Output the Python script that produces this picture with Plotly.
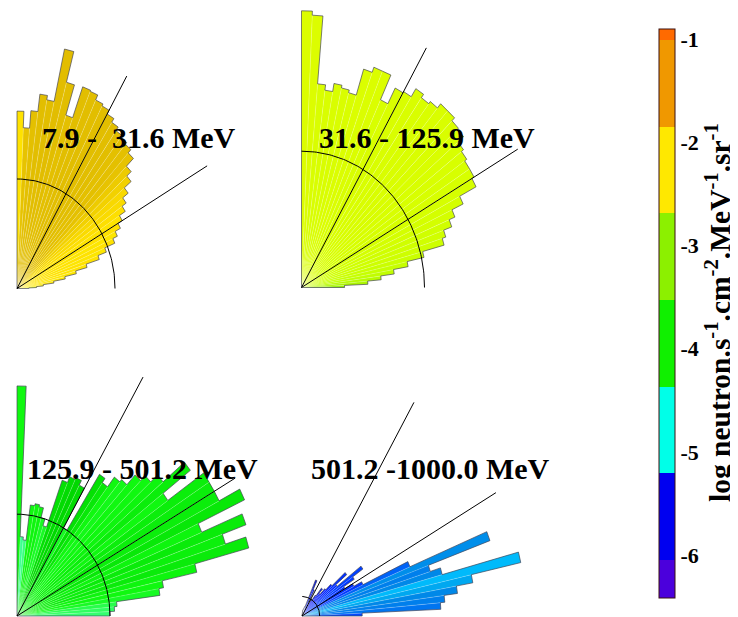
import numpy as np
import plotly.graph_objects as go
from plotly.colors import sample_colorscale

# ---------------- data ----------------
ANGLE_DEG = [1.25, 3.75, 6.25, 8.75, 11.25, 13.75, 16.25, 18.75, 21.25, 23.75,
             26.25, 28.75, 31.25, 33.75, 36.25, 38.75, 41.25, 43.75, 46.25, 48.75,
             51.25, 53.75, 56.25, 58.75, 61.25, 63.75, 66.25, 68.75, 71.25, 73.75,
             76.25, 78.75, 81.25, 83.75, 86.25, 88.75]
BIN_WIDTH_DEG = 2.5

LABELS = ["7.9 -\u00a0\u00a031.6 MeV", "31.6 - 125.9 MeV",
          "125.9 - 501.2 MeV", "501.2 -1000.0 MeV"]

# radii (in units of the reference arc of each panel)
R1 = [0.12, 0.20, 0.27, 0.38, 0.50, 0.62, 0.74, 0.88, 0.97, 1.08,
      1.13, 1.19, 1.24, 1.31, 1.36, 1.43, 1.52, 1.58, 1.68, 1.72,
      1.74, 1.76, 1.80, 1.84, 1.88, 1.90, 1.95, 1.96, 1.66, 1.95,
      2.24, 1.75, 1.79, 1.63, 1.47, 1.62]
R2 = [0.35, 0.54, 0.65, 0.76, 0.88, 1.02, 1.20, 1.23, 1.30, 1.35,
      1.45, 1.60, 1.62, 1.62, 1.64, 1.66, 1.72, 1.73, 1.76, 1.76,
      1.72, 1.70, 1.73, 1.66, 1.65, 1.52, 1.72, 1.72, 1.68, 1.48,
      1.50, 1.52, 1.46, 1.50, 2.00, 2.03]
R3 = [1.00, 1.05, 1.08, 1.55, 1.60, 1.98, 2.58, 2.35, 2.62, 2.15,
      2.70, 2.45, 2.45, 2.45, 1.98, 2.35, 2.05, 1.95, 1.88, 1.75,
      1.72, 1.60, 1.65, 1.00, 1.45, 1.50, 1.48, 1.42, 0.93, 1.00,
      1.10, 1.12, 1.10, 0.75, 0.78, 2.26]
R4 = [3.4, 7.85, 8.1, 8.86, 9.8, 12.66, 8.2, 7.6, 11.3, 6.6,
      3.8, 3.3, 2.8, 3.5, 4.2, 2.5, 3.3, 2.3, 1.9, 1.5,
      1.8, 1.3, 1.0, 0.9, 0.8, 1.5, 2.0, 0.6, 0.5, 0.4,
      0.4, 0.3, 0.3, 0.25, 0.25, 0.25]

# log flux of each wedge
V1 = [-2.60, -2.45, -2.20, -2.10, -2.10, -2.10, -2.08, -2.05, -2.10, -2.05,
      -2.10, -2.05, -2.08, -2.02, -1.98, -1.95, -1.88, -1.82, -1.75, -1.72,
      -1.72, -1.70, -1.70, -1.70, -1.70, -1.70, -1.70, -1.70, -1.72, -1.70,
      -1.68, -1.70, -1.70, -1.72, -1.75, -2.05]
V2 = [-3.10, -2.90, -2.80, -2.72, -2.68, -2.62, -2.58, -2.55, -2.55, -2.50,
      -2.50, -2.48, -2.46, -2.46, -2.45, -2.45, -2.44, -2.44, -2.44, -2.44,
      -2.44, -2.44, -2.44, -2.44, -2.44, -2.45, -2.43, -2.43, -2.43, -2.44,
      -2.44, -2.44, -2.44, -2.44, -2.42, -2.42]
V3 = [-4.15, -4.10, -4.05, -3.95, -3.90, -3.88, -3.82, -3.85, -3.82, -3.88,
      -3.80, -3.84, -3.84, -3.84, -3.90, -3.84, -3.88, -3.90, -3.90, -3.92,
      -3.90, -3.80, -3.75, -3.95, -3.72, -3.70, -3.72, -3.75, -3.95, -3.95,
      -3.88, -3.88, -3.90, -4.20, -4.25, -3.90]
V4 = [-5.35, -5.10, -5.05, -5.00, -4.75, -4.60, -5.00, -5.05, -4.95, -5.20,
      -5.45, -5.50, -5.50, -5.45, -5.40, -5.55, -5.50, -5.60, -5.65, -5.70,
      -5.70, -5.75, -5.80, -5.80, -5.85, -5.75, -5.70, -5.85, -5.90, -5.90,
      -5.90, -5.90, -5.90, -5.90, -5.90, -5.90]

CB_TICKS = [-1, -2, -3, -4, -5, -6]
CB_TEXT = ["-1", "-2", "-3", "-4", "-5", "-6"]
CB_TITLE = ("log neutron.s<sup>-1</sup>.cm<sup>-2</sup>.MeV<sup>-1</sup>"
            ".sr<sup>-1</sup>")
VMIN, VMAX = -6.42, -0.903
BAND_EDGES = [-6.42, -6.05, -5.21, -4.37, -3.53, -2.69, -1.85, -1.01, -0.903]
BAND_COLORS = ["rgb(75,0,220)", "rgb(0,0,240)", "rgb(0,255,232)",
               "rgb(16,240,0)", "rgb(140,240,0)", "rgb(255,232,0)",
               "rgb(240,152,0)", "rgb(255,106,0)"]

# continuous scale used to paint the wedges (value -> colour)
WEDGE_STOPS = [
    (-6.42, "rgb(75,0,220)"), (-5.90, "rgb(0,0,224)"), (-5.60, "rgb(0,32,255)"),
    (-5.30, "rgb(0,80,255)"), (-5.00, "rgb(0,136,232)"), (-4.75, "rgb(0,168,240)"),
    (-4.55, "rgb(0,192,255)"), (-4.30, "rgb(64,255,160)"), (-4.10, "rgb(48,255,96)"),
    (-3.90, "rgb(16,248,16)"), (-3.70, "rgb(0,216,0)"), (-3.40, "rgb(96,232,0)"),
    (-3.00, "rgb(158,240,0)"), (-2.70, "rgb(196,255,0)"), (-2.45, "rgb(216,255,0)"),
    (-2.20, "rgb(250,238,0)"), (-2.05, "rgb(255,226,0)"), (-1.85, "rgb(240,206,0)"),
    (-1.70, "rgb(226,190,0)"), (-1.30, "rgb(236,168,0)"), (-0.903, "rgb(255,106,0)"),
]

# ---------------- geometry / style ----------------
W, H = 738, 617
PAGE_OFF = 8  # page margin of the html body
PANELS = [  # origin px, px per unit (x,y), guide-line length, clip box (l, r, t, b)
    dict(ox=17.0, oy=288.5, sx=98.0, sy=109.5, line=2.24, box=(12, 292, 9, 292)),
    dict(ox=301.5, oy=287.5, sx=123.0, sy=136.3, line=2.03, box=(296, 600, 9, 291)),
    dict(ox=17.0, oy=616.0, sx=93.0, sy=101.8, line=2.71, box=(12, 292, 330, 625)),
    dict(ox=302.0, oy=616.0, sx=17.7, sy=19.5, line=12.65, box=(297, 600, 330, 625)),
]
LABEL_POS = [(40, 138), (316.5, 138), (25, 468), (309, 468)]
CB_BOX = dict(left=659, top=29.3, bottom=598.3, thick=16)
CB_TITLE_POS = (718.5, 312.5)
FONT = "Liberation Serif"

RADII = [R1, R2, R3, R4]
VALUES = [V1, V2, V3, V4]


def px_x(px):
    return (px - PAGE_OFF) / W


def px_y(py):
    return 1 - (py - PAGE_OFF) / H


def frac(v):
    return (v - VMIN) / (VMAX - VMIN)


wedge_scale = [[frac(v), c] for v, c in WEDGE_STOPS]
wedge_scale[0][0] = 0.0
wedge_scale[-1][0] = 1.0

band_scale = []
for i, c in enumerate(BAND_COLORS):
    band_scale.append([frac(BAND_EDGES[i]), c])
    band_scale.append([frac(BAND_EDGES[i + 1]), c])
band_scale[0][0] = 0.0
band_scale[-1][0] = 1.0

fig = go.Figure()
layout_axes = {}

for p, (geo, radii, vals) in enumerate(zip(PANELS, RADII, VALUES)):
    sfx = "" if p == 0 else str(p + 1)
    xa, ya = "x" + sfx, "y" + sfx
    cols = sample_colorscale(wedge_scale, [min(max(frac(v), 0), 1) for v in vals])
    half = np.radians(BIN_WIDTH_DEG / 2)
    ox_path, oy_path = [0.0], [0.0]
    for a, r, c in zip(ANGLE_DEG, radii, cols):
        t0, t1 = np.radians(a) - half, np.radians(a) + half
        x0, y0 = r * np.cos(t0), r * np.sin(t0)
        x1, y1 = r * np.cos(t1), r * np.sin(t1)
        fig.add_trace(go.Scatter(
            x=[0, x0, x1, 0], y=[0, y0, y1, 0], mode="lines", fill="toself",
            fillcolor=c, line=dict(color="rgba(255,255,255,0.3)", width=0.5),
            xaxis=xa, yaxis=ya, hoverinfo="skip", showlegend=False))
        ox_path += [x0, x1]
        oy_path += [y0, y1]
    ox_path.append(0.0)
    oy_path.append(0.0)
    fig.add_trace(go.Scatter(
        x=ox_path, y=oy_path, mode="lines",
        line=dict(color="rgba(40,40,60,0.85)", width=0.7),
        xaxis=xa, yaxis=ya, hoverinfo="skip", showlegend=False))
    # guide lines at 30 and 60 degrees
    for ang in (30, 60):
        t = np.radians(ang)
        fig.add_trace(go.Scatter(
            x=[0, geo["line"] * np.cos(t)], y=[0, geo["line"] * np.sin(t)],
            mode="lines", line=dict(color="black", width=1),
            xaxis=xa, yaxis=ya, hoverinfo="skip", showlegend=False))
    # reference arc
    tt = np.radians(np.linspace(0, 90, 91))
    fig.add_trace(go.Scatter(
        x=np.cos(tt), y=np.sin(tt), mode="lines",
        line=dict(color="black", width=1),
        xaxis=xa, yaxis=ya, hoverinfo="skip", showlegend=False))

    l, r_, t_, b = geo["box"]
    ox, oy, sx, sy = geo["ox"], geo["oy"], geo["sx"], geo["sy"]
    layout_axes["xaxis" + sfx] = dict(
        domain=[max(px_x(l), 0), min(px_x(r_), 1)],
        range=[-(ox - max(l, PAGE_OFF)) / sx, (r_ - ox) / sx],
        visible=False, anchor=ya, fixedrange=True)
    yb = min(b, H + PAGE_OFF)
    layout_axes["yaxis" + sfx] = dict(
        domain=[px_y(yb), px_y(t_)],
        range=[-(yb - oy) / sy, (oy - t_) / sy],
        visible=False, anchor=xa, fixedrange=True)

# colour bar (discrete bands)
cb_len = CB_BOX["bottom"] - CB_BOX["top"]
fig.add_trace(go.Scatter(
    x=[-1000], y=[-1000], mode="markers", xaxis="x", yaxis="y",
    marker=dict(color=[-3.0], colorscale=band_scale, cmin=VMIN, cmax=VMAX,
                showscale=True,
                colorbar=dict(
                    x=px_x(CB_BOX["left"]), xanchor="left", xpad=0,
                    y=px_y((CB_BOX["top"] + CB_BOX["bottom"]) / 2),
                    yanchor="middle", ypad=0,
                    len=cb_len, lenmode="pixels",
                    thickness=CB_BOX["thick"], thicknessmode="pixels",
                    outlinewidth=1, outlinecolor="#3a1010",
                    tickvals=CB_TICKS, ticktext=CB_TEXT, ticks="",
                    tickfont=dict(family=FONT, size=22, color="black",
                                  weight="bold"))),
    hoverinfo="skip", showlegend=False))

annotations = []
for (lx, ly), txt in zip(LABEL_POS, LABELS):
    annotations.append(dict(
        x=px_x(lx), y=px_y(ly), xref="paper", yref="paper", text=txt,
        showarrow=False, xanchor="left", yanchor="middle",
        font=dict(family=FONT, size=30, color="black", weight="bold")))
annotations.append(dict(
    x=px_x(CB_TITLE_POS[0]), y=px_y(CB_TITLE_POS[1]), xref="paper", yref="paper",
    text=CB_TITLE, textangle=-90, showarrow=False,
    xanchor="center", yanchor="middle",
    font=dict(family=FONT, size=29.5, color="black", weight="bold")))

fig.update_layout(
    width=W, height=H, margin=dict(l=0, r=0, t=0, b=0, autoexpand=False),
    paper_bgcolor="white", plot_bgcolor="rgba(0,0,0,0)",
    showlegend=False, annotations=annotations, **layout_axes)

fig.write_html("out.html", config={"displayModeBar": False})
